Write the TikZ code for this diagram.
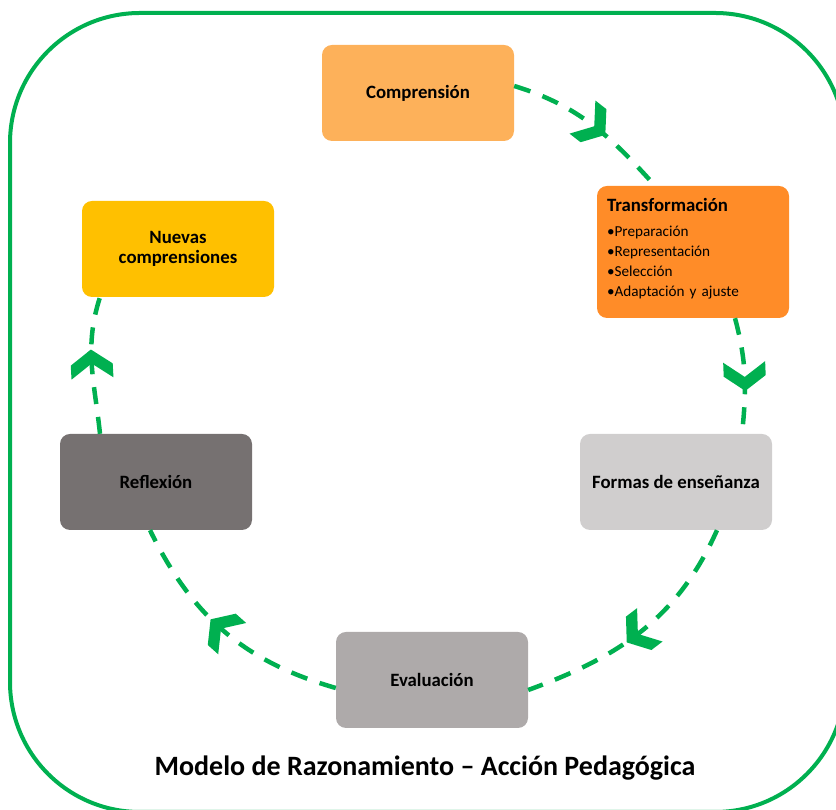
\documentclass[tikz,border=0pt]{standalone}
\usepackage{fontspec}
\setmainfont{Carlito}
\usetikzlibrary{decorations.markings}
\definecolor{cycgreen}{RGB}{0,176,80}
\definecolor{comporange}{RGB}{253,177,90}
\definecolor{transorange}{RGB}{255,140,40}
\definecolor{formgray}{RGB}{208,206,206}
\definecolor{evalgray}{RGB}{174,170,170}
\definecolor{reflgray}{RGB}{118,113,113}
\definecolor{newyellow}{RGB}{255,192,0}
\begin{document}
\begin{tikzpicture}[x=1pt,y=1pt,
  box/.style={rectangle,rounded corners=10pt,minimum width=192pt,minimum height=96pt,
    inner sep=4pt,align=center,font=\fontsize{18.8}{20}\selectfont\bfseries},
  flow/.style={cycgreen,line width=4.5pt,dash pattern=on 17pt off 13pt,postaction=decorate,
    decoration={markings,mark=at position 0.52 with
      {\fill[cycgreen] (13,0) -- (-2,21) -- (-16,21) -- (-1,0) -- (-16,-21) -- (-2,-21) -- cycle;}}}]
  \useasboundingbox (0,0) rectangle (836,810);
  \clip (0,0) rectangle (836,810);
  % outer frame
  \draw[cycgreen,line width=4pt,rounded corners=130pt] (10,-2) rectangle (845,797);
  % stages of the cycle
  \node[box,fill=comporange] (comp) at (418,717) {Comprensión};
  \node[box,fill=transorange,minimum height=132pt,text width=172pt,inner sep=10pt,align=left,
    font=\fontsize{15.2}{20}\selectfont] (trans) at (693,558)
    {{\fontsize{18.8}{20}\selectfont\bfseries Transformación}\\[5pt]
     •Preparación\\•Representación\\•Selección\\•Adaptación y ajuste\\[-10pt]\mbox{}};
  \node[box,fill=formgray] (formas) at (676,328) {Formas de enseñanza};
  \node[box,fill=evalgray] (eval) at (432,130) {Evaluación};
  \node[box,fill=reflgray] (refl) at (156,328) {Reflexión};
  \node[box,fill=newyellow] (nuevas) at (178,561) {Nuevas\\comprensiones};
  \node[font=\fontsize{28}{32}\selectfont\bfseries] (title) at (425,42)
    {Modelo de Razonamiento – Acción Pedagógica};
  % dashed connectors
  \draw[flow] ([yshift=7pt]comp.east) to[out=-17,in=132] ([xshift=-38pt]trans.north);
  \draw[flow] ([xshift=42pt]trans.south) to[out=-75,in=84] ([xshift=66pt]formas.north);
  \draw[flow] ([xshift=41pt]formas.south) to[out=-114,in=20] ([yshift=-10pt]eval.east);
  \draw[flow] ([yshift=-8pt]eval.west) to[out=164,in=-64] ([xshift=-6pt]refl.south);
  \draw[flow] ([xshift=-56pt]refl.north) to[out=96,in=-108] ([xshift=-78pt]nuevas.south);
\end{tikzpicture}
\end{document}
